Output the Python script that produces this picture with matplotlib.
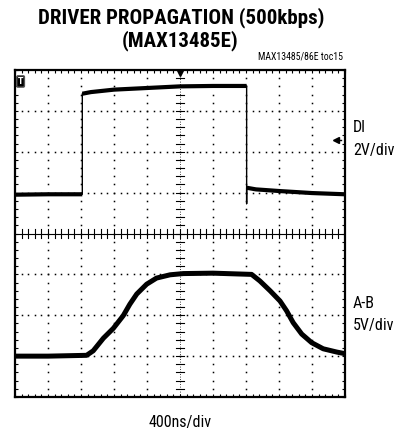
import numpy as np
import matplotlib
matplotlib.use("Agg")
import matplotlib.pyplot as plt
from matplotlib.ticker import MultipleLocator

# scope traces, x in divisions (400ns/div), y in divisions (8 div screen)
di_t = [0.0, 1.0, 2.04, 2.04, 2.04, 2.3, 3.0, 4.0, 5.0, 6.0, 7.02, 7.02, 7.02, 7.02, 7.3, 8.0, 9.0, 10.0]
di_v = [4.95, 4.96, 4.96, 7.0, 7.42, 7.46, 7.52, 7.56, 7.6, 7.61, 7.61, 5.37, 4.73, 5.12, 5.08, 5.04, 4.99, 4.96]

ab_t = [0.0, 1.0, 2.17, 2.37, 2.68, 2.98, 3.28, 3.48, 3.69, 3.99, 4.29, 4.7, 5.1, 6.0, 7.17,
        7.42, 7.73, 8.03, 8.23, 8.43, 8.69, 8.99, 9.34, 9.75, 10.0]
ab_v = [1.0, 1.0, 1.02, 1.13, 1.44, 1.68, 1.99, 2.27, 2.52, 2.76, 2.91, 2.99, 3.02, 3.03, 3.0,
        2.84, 2.6, 2.35, 2.11, 1.82, 1.54, 1.33, 1.18, 1.1, 1.06]

title_lines = ["DRIVER PROPAGATION (500kbps)", "(MAX13485E)"]
toc_label = "MAX13485/86E toc15"
ch_labels = [("DI", "2V/div", 6.3), ("A-B", "5V/div", 2.0)]
x_label = "400ns/div"

narrow = ["Roboto Condensed", "Liberation Sans Narrow", "DejaVu Sans Condensed", "Roboto", "DejaVu Sans"]

fig = plt.figure(figsize=(4.04, 4.33), dpi=100)
ax = fig.add_axes([0.0371, 0.0831, 0.8168, 0.7552])
ax.set_xlim(0, 10)
ax.set_ylim(0, 8)

# dotted graticule
for gx in range(1, 10):
    if gx == 5:
        continue
    yy = np.arange(0.2, 8.0, 0.2)
    ax.plot(np.full_like(yy, gx), yy, ls="none", marker="s", ms=1.1, color="black", mew=0)
for gy in range(1, 8):
    if gy == 4:
        continue
    xx = np.arange(0.2, 10.0, 0.2)
    ax.plot(xx, np.full_like(xx, gy), ls="none", marker="s", ms=1.1, color="black", mew=0)

# centre axes with minor ticks
ax.axhline(4, color="black", lw=0.8)
ax.axvline(5, color="black", lw=0.6, ls=(0, (1, 2)))
for t in np.arange(0.2, 10.0, 0.2):
    ax.plot([t, t], [3.9, 4.1], color="black", lw=0.8)
for t in np.arange(0.2, 8.0, 0.2):
    ax.plot([4.88, 5.12], [t, t], color="black", lw=0.8)

# traces: thin everywhere, thick where not a vertical edge
def thick_parts(t, v):
    t = np.asarray(t, float)
    v = np.asarray(v, float)
    tt, vv = [t[0]], [v[0]]
    for i in range(1, len(t)):
        if t[i] == t[i - 1]:
            tt.append(np.nan)
            vv.append(np.nan)
        tt.append(t[i])
        vv.append(v[i])
    return tt, vv

ax.plot(di_t, di_v, color="black", lw=1.0)
tt, vv = thick_parts(di_t, di_v)
ax.plot(tt, vv, color="black", lw=3.0, solid_capstyle="butt")
ax.plot(ab_t, ab_v, color="black", lw=3.6, solid_capstyle="butt", solid_joinstyle="round")

# trigger markers
ax.text(0.17, 7.72, "T", fontsize=5.5, color="white", ha="center", va="center",
        fontweight="bold",
        bbox=dict(boxstyle="round,pad=0.15", fc="black", ec="#555555"))
ax.plot([5], [7.93], marker="v", ms=5, color="black", clip_on=False)
ax.plot([9.72], [6.28], marker="<", ms=4, color="black")
ax.plot([9.72, 9.88], [6.28, 6.28], color="black", lw=1.0)

ax.xaxis.set_major_locator(MultipleLocator(1))
ax.xaxis.set_minor_locator(MultipleLocator(0.2))
ax.yaxis.set_major_locator(MultipleLocator(1))
ax.yaxis.set_minor_locator(MultipleLocator(0.2))
ax.tick_params(which="both", direction="in", top=True, right=True,
               labelbottom=False, labelleft=False, length=2.5, width=0.8)
for s in ax.spines.values():
    s.set_linewidth(1.6)

fig.text(0.448, 0.96, title_lines[0], ha="center", va="center", fontsize=15,
         fontweight="black", family=narrow)
fig.text(0.446, 0.906, title_lines[1], ha="center", va="center", fontsize=15,
         fontweight="black", family=narrow)
fig.text(0.848, 0.87, toc_label, ha="right", va="center", fontsize=7, family=narrow)

for name, scale, ypos in ch_labels:
    ax.text(10.24, ypos + 0.3, name, ha="left", va="center", fontsize=11.5, family=narrow)
    ax.text(10.24, ypos - 0.26, scale, ha="left", va="center", fontsize=11.5, family=narrow)

fig.text(0.446, 0.025, x_label, ha="center", va="center", fontsize=11.5, family=narrow)

fig.savefig("out.png", dpi=100)
